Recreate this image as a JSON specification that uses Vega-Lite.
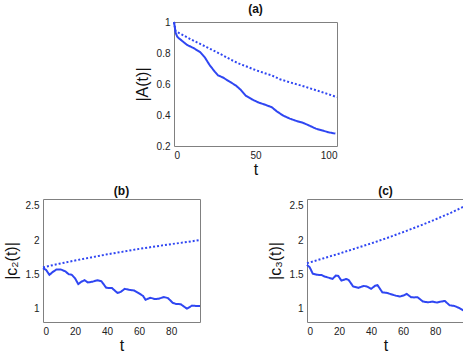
{
  "$schema": "https://vega.github.io/schema/vega-lite/v6.json",
  "padding": {"top": 2, "left": 2, "right": 0, "bottom": 0},
  "background": "white",
  "config": {
    "font": "Liberation Sans",
    "view": {"stroke": "#808080", "strokeWidth": 1},
    "axis": {
      "grid": false, "domain": false, "ticks": false,
      "labelFont": "Liberation Sans", "labelFontSize": 10, "labelColor": "#222",
      "labelPadding": 4,
      "titleFont": "Liberation Sans", "titleFontSize": 16, "titleFontWeight": "normal", "titleColor": "#111"
    },
    "axisY": {"titlePadding": 6},
    "axisX": {"titlePadding": 1},
    "title": {"font": "Liberation Sans", "fontSize": 12, "fontWeight": "bold", "color": "#111", "offset": 1},
    "line": {"color": "#2f46f2", "strokeWidth": 2}
  },
  "datasets": {
    "A": [
      {"t": 0, "v": 1.0, "s": "solid"}, {"t": 1, "v": 0.93, "s": "solid"}, {"t": 2, "v": 0.905, "s": "solid"},
      {"t": 3, "v": 0.895, "s": "solid"}, {"t": 5, "v": 0.878, "s": "solid"}, {"t": 8, "v": 0.852, "s": "solid"},
      {"t": 12, "v": 0.832, "s": "solid"}, {"t": 16, "v": 0.806, "s": "solid"}, {"t": 19, "v": 0.77, "s": "solid"},
      {"t": 22, "v": 0.72, "s": "solid"}, {"t": 25, "v": 0.68, "s": "solid"}, {"t": 27, "v": 0.656, "s": "solid"},
      {"t": 30, "v": 0.642, "s": "solid"}, {"t": 34, "v": 0.616, "s": "solid"}, {"t": 38, "v": 0.59, "s": "solid"},
      {"t": 41, "v": 0.562, "s": "solid"}, {"t": 44, "v": 0.525, "s": "solid"}, {"t": 48, "v": 0.5, "s": "solid"},
      {"t": 52, "v": 0.48, "s": "solid"}, {"t": 56, "v": 0.466, "s": "solid"}, {"t": 60, "v": 0.45, "s": "solid"},
      {"t": 63, "v": 0.424, "s": "solid"}, {"t": 67, "v": 0.396, "s": "solid"}, {"t": 71, "v": 0.377, "s": "solid"},
      {"t": 75, "v": 0.362, "s": "solid"}, {"t": 79, "v": 0.35, "s": "solid"}, {"t": 83, "v": 0.332, "s": "solid"},
      {"t": 87, "v": 0.312, "s": "solid"}, {"t": 91, "v": 0.3, "s": "solid"}, {"t": 95, "v": 0.288, "s": "solid"},
      {"t": 99, "v": 0.28, "s": "solid"},
      {"t": 0, "v": 1.0, "s": "dotted"}, {"t": 1, "v": 0.94, "s": "dotted"}, {"t": 5, "v": 0.918, "s": "dotted"},
      {"t": 10, "v": 0.89, "s": "dotted"}, {"t": 15, "v": 0.864, "s": "dotted"}, {"t": 20, "v": 0.838, "s": "dotted"},
      {"t": 25, "v": 0.812, "s": "dotted"}, {"t": 30, "v": 0.785, "s": "dotted"}, {"t": 35, "v": 0.756, "s": "dotted"},
      {"t": 40, "v": 0.731, "s": "dotted"}, {"t": 45, "v": 0.711, "s": "dotted"}, {"t": 50, "v": 0.69, "s": "dotted"},
      {"t": 55, "v": 0.672, "s": "dotted"}, {"t": 60, "v": 0.655, "s": "dotted"}, {"t": 65, "v": 0.631, "s": "dotted"},
      {"t": 70, "v": 0.614, "s": "dotted"}, {"t": 75, "v": 0.599, "s": "dotted"}, {"t": 80, "v": 0.584, "s": "dotted"},
      {"t": 85, "v": 0.567, "s": "dotted"}, {"t": 90, "v": 0.55, "s": "dotted"}, {"t": 95, "v": 0.533, "s": "dotted"},
      {"t": 100, "v": 0.515, "s": "dotted"}
    ],
    "B": [
      {"t": 0, "v": 1.588, "s": "solid"}, {"t": 2, "v": 1.56, "s": "solid"}, {"t": 4, "v": 1.49, "s": "solid"},
      {"t": 6, "v": 1.53, "s": "solid"}, {"t": 8.5, "v": 1.57, "s": "solid"}, {"t": 11, "v": 1.57, "s": "solid"},
      {"t": 14, "v": 1.54, "s": "solid"}, {"t": 16, "v": 1.5, "s": "solid"}, {"t": 18, "v": 1.49, "s": "solid"},
      {"t": 20, "v": 1.44, "s": "solid"}, {"t": 22, "v": 1.355, "s": "solid"}, {"t": 24, "v": 1.39, "s": "solid"},
      {"t": 26, "v": 1.412, "s": "solid"}, {"t": 28, "v": 1.378, "s": "solid"}, {"t": 31, "v": 1.39, "s": "solid"},
      {"t": 34, "v": 1.412, "s": "solid"}, {"t": 36.5, "v": 1.395, "s": "solid"}, {"t": 39.5, "v": 1.3, "s": "solid"},
      {"t": 43, "v": 1.298, "s": "solid"}, {"t": 46.5, "v": 1.225, "s": "solid"}, {"t": 48.5, "v": 1.24, "s": "solid"},
      {"t": 51, "v": 1.285, "s": "solid"}, {"t": 54, "v": 1.27, "s": "solid"}, {"t": 57, "v": 1.26, "s": "solid"},
      {"t": 60, "v": 1.22, "s": "solid"}, {"t": 62.5, "v": 1.18, "s": "solid"}, {"t": 64, "v": 1.125, "s": "solid"},
      {"t": 67, "v": 1.155, "s": "solid"}, {"t": 70, "v": 1.135, "s": "solid"}, {"t": 72, "v": 1.14, "s": "solid"},
      {"t": 75.5, "v": 1.165, "s": "solid"}, {"t": 78, "v": 1.15, "s": "solid"}, {"t": 81, "v": 1.08, "s": "solid"},
      {"t": 83, "v": 1.065, "s": "solid"}, {"t": 86, "v": 1.06, "s": "solid"}, {"t": 89.8, "v": 0.995, "s": "solid"},
      {"t": 93, "v": 1.04, "s": "solid"}, {"t": 95.5, "v": 1.035, "s": "solid"}, {"t": 98, "v": 1.035, "s": "solid"},
      {"t": 0, "v": 1.6, "s": "dotted"}, {"t": 10, "v": 1.652, "s": "dotted"}, {"t": 20, "v": 1.7, "s": "dotted"},
      {"t": 30, "v": 1.745, "s": "dotted"}, {"t": 40, "v": 1.79, "s": "dotted"}, {"t": 50, "v": 1.83, "s": "dotted"},
      {"t": 60, "v": 1.87, "s": "dotted"}, {"t": 70, "v": 1.905, "s": "dotted"}, {"t": 80, "v": 1.94, "s": "dotted"},
      {"t": 90, "v": 1.97, "s": "dotted"}, {"t": 98, "v": 2.0, "s": "dotted"}
    ],
    "C": [
      {"t": 0, "v": 1.637, "s": "solid"}, {"t": 1.7, "v": 1.6, "s": "solid"}, {"t": 3.6, "v": 1.508, "s": "solid"},
      {"t": 6.5, "v": 1.49, "s": "solid"}, {"t": 9, "v": 1.488, "s": "solid"}, {"t": 11, "v": 1.465, "s": "solid"},
      {"t": 14, "v": 1.445, "s": "solid"}, {"t": 16, "v": 1.432, "s": "solid"}, {"t": 18, "v": 1.48, "s": "solid"},
      {"t": 19.5, "v": 1.475, "s": "solid"}, {"t": 21.5, "v": 1.405, "s": "solid"}, {"t": 24.5, "v": 1.43, "s": "solid"},
      {"t": 26, "v": 1.415, "s": "solid"}, {"t": 28.8, "v": 1.32, "s": "solid"}, {"t": 32, "v": 1.3, "s": "solid"},
      {"t": 35.5, "v": 1.328, "s": "solid"}, {"t": 37.5, "v": 1.318, "s": "solid"}, {"t": 40, "v": 1.285, "s": "solid"},
      {"t": 42.5, "v": 1.33, "s": "solid"}, {"t": 44, "v": 1.34, "s": "solid"}, {"t": 47, "v": 1.235, "s": "solid"},
      {"t": 50, "v": 1.226, "s": "solid"}, {"t": 52.5, "v": 1.205, "s": "solid"}, {"t": 55.5, "v": 1.185, "s": "solid"},
      {"t": 58, "v": 1.172, "s": "solid"}, {"t": 60.5, "v": 1.19, "s": "solid"}, {"t": 62.2, "v": 1.212, "s": "solid"},
      {"t": 65, "v": 1.162, "s": "solid"}, {"t": 67, "v": 1.16, "s": "solid"}, {"t": 69, "v": 1.163, "s": "solid"},
      {"t": 72.3, "v": 1.1, "s": "solid"}, {"t": 75.5, "v": 1.088, "s": "solid"}, {"t": 78.5, "v": 1.098, "s": "solid"},
      {"t": 81, "v": 1.085, "s": "solid"}, {"t": 83.5, "v": 1.098, "s": "solid"}, {"t": 86, "v": 1.108, "s": "solid"},
      {"t": 89, "v": 1.045, "s": "solid"}, {"t": 92, "v": 1.035, "s": "solid"}, {"t": 95, "v": 1.005, "s": "solid"},
      {"t": 98, "v": 0.965, "s": "solid"},
      {"t": 0, "v": 1.66, "s": "dotted"}, {"t": 10, "v": 1.73, "s": "dotted"}, {"t": 20, "v": 1.8, "s": "dotted"},
      {"t": 30, "v": 1.875, "s": "dotted"}, {"t": 40, "v": 1.95, "s": "dotted"}, {"t": 50, "v": 2.03, "s": "dotted"},
      {"t": 60, "v": 2.115, "s": "dotted"}, {"t": 70, "v": 2.205, "s": "dotted"}, {"t": 80, "v": 2.3, "s": "dotted"},
      {"t": 90, "v": 2.4, "s": "dotted"}, {"t": 98, "v": 2.49, "s": "dotted"}
    ]
  },
  "spacing": 6,
  "vconcat": [
    {
      "spacing": 0,
      "hconcat": [
        {
          "width": 90, "height": 10,
          "view": {"stroke": null},
          "data": {"values": [{"t": 0}]},
          "mark": {"type": "point", "opacity": 0},
          "encoding": {}
        },
        {
          "title": "(a)",
          "width": 163, "height": 124,
          "data": {"name": "A"},
          "mark": {"type": "line", "strokeCap": "butt"},
          "encoding": {
            "x": {"field": "t", "type": "quantitative", "title": "t",
                  "scale": {"domain": [0, 100], "nice": false, "zero": false},
                  "axis": {"values": [0, 50, 100]}},
            "y": {"field": "v", "type": "quantitative", "title": "|A(t)|",
                  "scale": {"domain": [0.2, 1], "nice": false, "zero": false},
                  "axis": {"values": [0.2, 0.4, 0.6, 0.8, 1], "format": "~g"}},
            "strokeDash": {"field": "s", "type": "nominal", "legend": null,
                  "scale": {"domain": ["solid", "dotted"], "range": [[1, 0], [2, 2]]}},
            "detail": {"field": "s"}
          }
        }
      ]
    },
    {
      "spacing": 61,
      "hconcat": [
        {
          "title": "(b)",
          "width": 157, "height": 123,
          "data": {"name": "B"},
          "mark": {"type": "line", "strokeCap": "butt"},
          "encoding": {
            "x": {"field": "t", "type": "quantitative", "title": "t",
                  "scale": {"domain": [0, 98], "nice": false, "zero": false},
                  "axis": {"values": [0, 20, 40, 60, 80]}},
            "y": {"field": "v", "type": "quantitative", "title": "|c₂(t)|",
                  "scale": {"domain": [0.8, 2.6], "nice": false, "zero": false},
                  "axis": {"values": [1, 1.5, 2, 2.5], "format": "~g"}},
            "strokeDash": {"field": "s", "type": "nominal", "legend": null,
                  "scale": {"domain": ["solid", "dotted"], "range": [[1, 0], [2, 2]]}},
            "detail": {"field": "s"}
          }
        },
        {
          "title": "(c)",
          "width": 157, "height": 123,
          "data": {"name": "C"},
          "mark": {"type": "line", "strokeCap": "butt"},
          "encoding": {
            "x": {"field": "t", "type": "quantitative", "title": "t",
                  "scale": {"domain": [0, 98], "nice": false, "zero": false},
                  "axis": {"values": [0, 20, 40, 60, 80]}},
            "y": {"field": "v", "type": "quantitative", "title": "|c₃(t)|",
                  "scale": {"domain": [0.8, 2.6], "nice": false, "zero": false},
                  "axis": {"values": [1, 1.5, 2, 2.5], "format": "~g"}},
            "strokeDash": {"field": "s", "type": "nominal", "legend": null,
                  "scale": {"domain": ["solid", "dotted"], "range": [[1, 0], [2, 2]]}},
            "detail": {"field": "s"}
          }
        }
      ]
    }
  ]
}
